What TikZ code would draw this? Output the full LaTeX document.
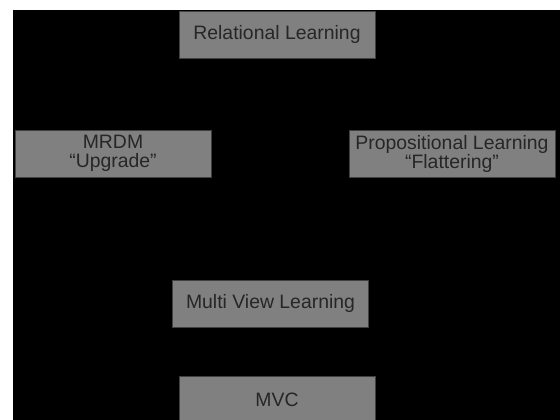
\documentclass[tikz,border=0pt]{standalone}
\usepackage{fontspec}
\setmainfont{Liberation Sans}
\definecolor{boxfill}{HTML}{808080}
\definecolor{boxline}{HTML}{404040}
\definecolor{boxtext}{HTML}{262626}
\begin{document}
\begin{tikzpicture}[x=0.025cm,y=-0.025cm,
  box/.style={draw=boxline,fill=boxfill,text=boxtext,minimum width=4.9cm,
    minimum height=1.175cm,inner sep=0pt,align=center,
    font=\fontsize{13.8}{13.5}\selectfont}]
  \useasboundingbox (0,0) rectangle (560,420);
  \clip (0,0) rectangle (560,420);
  \fill[white] (0,0) rectangle (560,420);
  \fill[black] (13,10) rectangle (560,420);
  \node[box] (rel) at (277,34.5) {Relational Learning};
  \node[box] (mrdm) at (113,153.5) {MRDM\\“Upgrade”};
  \node[box,minimum width=5.15cm] (prop) at (452,153.5) {Propositional Learning\\“Flattering”};
  \node[box] (mvl) at (270.5,303.5) {Multi View Learning};
  \node[box] (mvc) at (277,399.5) {MVC};
\end{tikzpicture}
\end{document}
